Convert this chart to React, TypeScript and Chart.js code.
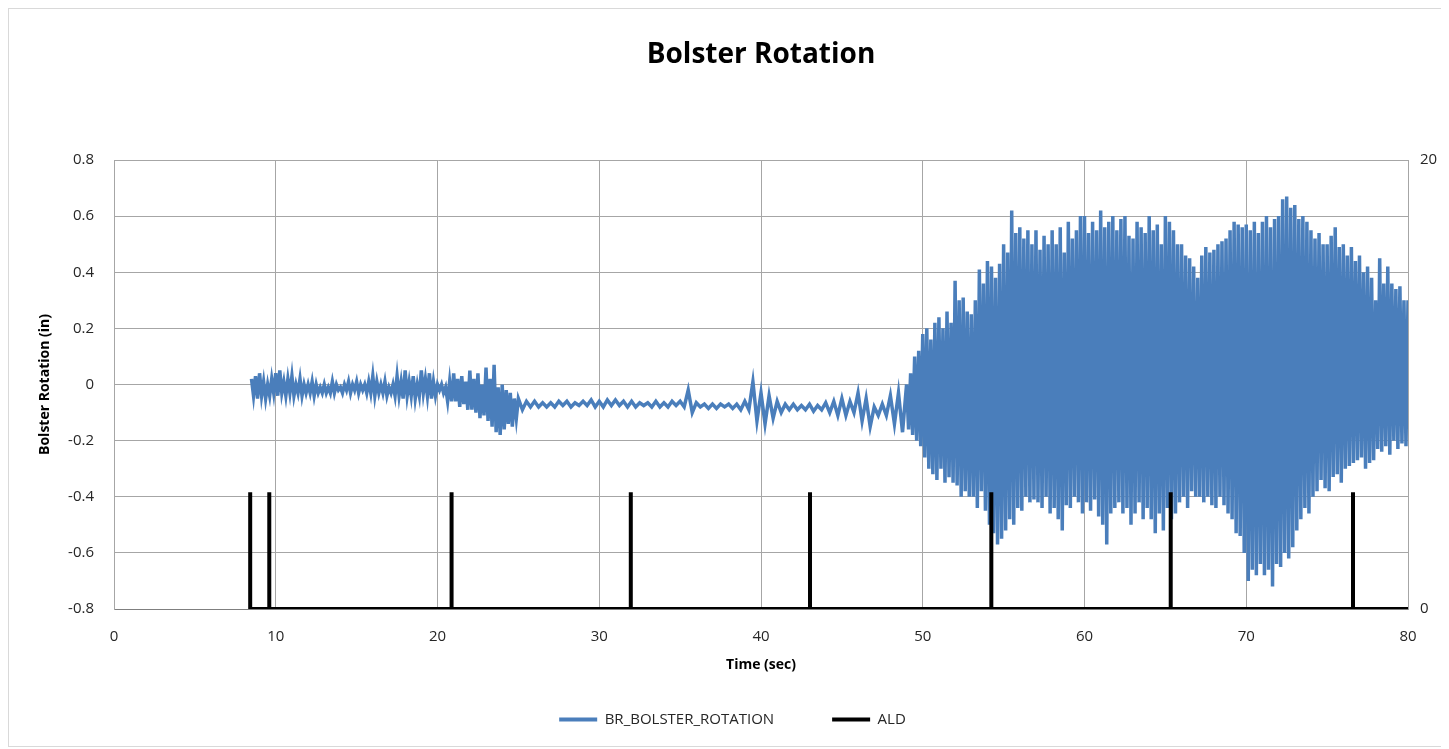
import React, { useEffect, useRef } from "react";
import { Chart, registerables } from "chart.js";

Chart.register(...registerables);

// ---------- data ----------
const chartTitle = "Bolster Rotation";
const xTitle = "Time (sec)";
const yTitle = "Bolster Rotation (in)";
const rotationLabel = "BR_BOLSTER_ROTATION";
const aldLabel = "ALD";

const xTicks = [0, 10, 20, 30, 40, 50, 60, 70, 80];
const yLeftTicks = [-0.8, -0.6, -0.4, -0.2, 0, 0.2, 0.4, 0.6, 0.8];
const yRightTicks = [0, 20];

// early part: 8.5 s .. 24.875 s, every 0.125 s
const rotationEarlyStart = 8.5;
const rotationEarlyStep = 0.125;
const rotationEarly = [
  0.02, -0.04, 0.03, -0.05,
  0.04, -0.04, 0.01, -0.05, 0.0, -0.04, 0.02, -0.03,
  0.04, -0.04, 0.05, -0.03, 0.01, -0.04, 0.02, -0.03,
  0.03, -0.04, 0.0, -0.03, 0.02, -0.04, 0.0, -0.03,
  0.0, -0.03, 0.01, -0.04, 0.0, -0.03, -0.01, -0.03,
  0.0, -0.03, -0.01, -0.03, 0.01, -0.03, 0.0, -0.02,
  -0.01, -0.03, 0.0, -0.02, 0.01, -0.03, 0.0, -0.02,
  0.01, -0.03, 0.0, -0.02, 0.0, -0.03, 0.01, -0.03,
  0.03, -0.04, 0.01, -0.03, 0.0, -0.03, 0.01, -0.04,
  -0.01, -0.03, 0.0, -0.04, 0.03, -0.04, 0.01, -0.05,
  0.05, -0.04, 0.01, -0.04, 0.03, -0.05, 0.0, -0.04,
  0.05, -0.03, 0.02, -0.04, 0.04, -0.05, 0.01, -0.04,
  0.0, -0.02, 0.0, -0.03, -0.01, -0.06, 0.01, -0.06,
  0.04, -0.06, 0.02, -0.08, 0.03, -0.07, 0.01, -0.09,
  0.05, -0.09, 0.02, -0.1, 0.04, -0.12, 0.0, -0.11,
  0.06, -0.13, 0.02, -0.15, 0.07, -0.17, -0.01, -0.18,
  0.0, -0.16, -0.02, -0.14, -0.03, -0.15, -0.05, -0.12,
];

// middle part: 25 s .. 48.75 s, every 0.25 s
const rotationMidStart = 25;
const rotationMidStep = 0.25;
const rotationMid = [
  -0.05, -0.09, -0.06, -0.08,
  -0.06, -0.08, -0.065, -0.08,
  -0.065, -0.08, -0.06, -0.075,
  -0.06, -0.08, -0.065, -0.075,
  -0.06, -0.075, -0.055, -0.08,
  -0.06, -0.08, -0.055, -0.075,
  -0.055, -0.075, -0.06, -0.08,
  -0.06, -0.08, -0.065, -0.075,
  -0.065, -0.08, -0.06, -0.08,
  -0.065, -0.08, -0.06, -0.075,
  -0.06, -0.08, -0.02, -0.1,
  -0.065, -0.08, -0.07, -0.085,
  -0.07, -0.085, -0.07, -0.08,
  -0.07, -0.085, -0.07, -0.09,
  -0.06, -0.09, 0.01, -0.13,
  -0.03, -0.14, -0.04, -0.12,
  -0.06, -0.1, -0.07, -0.09,
  -0.07, -0.09, -0.075, -0.09,
  -0.07, -0.095, -0.075, -0.09,
  -0.065, -0.1, -0.06, -0.11,
  -0.05, -0.11, -0.06, -0.1,
  -0.03, -0.13, -0.05, -0.15,
  -0.08, -0.11, -0.07, -0.11,
  -0.04, -0.14, -0.03, -0.17,
];

// active part: 49 s .. 80 s, every 0.125 s
const rotationActiveStart = 49;
const rotationActiveStep = 0.125;
const rotationActive = [
  0.0, -0.16, 0.04, -0.18, 0.1, -0.2, 0.12, -0.22,
  0.18, -0.26, 0.2, -0.3, 0.16, -0.32, 0.22, -0.34,
  0.24, -0.3, 0.2, -0.35, 0.26, -0.33, 0.22, -0.35,
  0.37, -0.36, 0.3, -0.4, 0.31, -0.38, 0.26, -0.4,
  0.25, -0.4, 0.3, -0.44, 0.41, -0.38, 0.36, -0.45,
  0.44, -0.5, 0.42, -0.53, 0.38, -0.57, 0.43, -0.55,
  0.5, -0.52, 0.47, -0.48, 0.62, -0.5, 0.54, -0.44,
  0.56, -0.45, 0.52, -0.4, 0.55, -0.42, 0.5, -0.41,
  0.55, -0.42, 0.48, -0.44, 0.53, -0.4, 0.5, -0.46,
  0.55, -0.44, 0.5, -0.48, 0.56, -0.52, 0.47, -0.43,
  0.58, -0.44, 0.52, -0.4, 0.55, -0.42, 0.6, -0.46,
  0.6, -0.42, 0.54, -0.45, 0.58, -0.41, 0.55, -0.47,
  0.62, -0.5, 0.56, -0.57, 0.58, -0.46, 0.6, -0.44,
  0.55, -0.42, 0.59, -0.46, 0.6, -0.44, 0.53, -0.5,
  0.52, -0.46, 0.58, -0.42, 0.56, -0.48, 0.54, -0.44,
  0.6, -0.48, 0.55, -0.53, 0.57, -0.46, 0.5, -0.52,
  0.6, -0.44, 0.58, -0.48, 0.55, -0.46, 0.5, -0.42,
  0.5, -0.4, 0.46, -0.44, 0.45, -0.38, 0.42, -0.4,
  0.38, -0.4, 0.46, -0.42, 0.49, -0.4, 0.47, -0.43,
  0.48, -0.44, 0.5, -0.4, 0.51, -0.43, 0.52, -0.46,
  0.55, -0.48, 0.58, -0.53, 0.57, -0.54, 0.56, -0.6,
  0.57, -0.7, 0.55, -0.66, 0.58, -0.68, 0.54, -0.64,
  0.58, -0.68, 0.6, -0.66, 0.56, -0.72, 0.59, -0.64,
  0.6, -0.65, 0.66, -0.6, 0.67, -0.62, 0.63, -0.58,
  0.64, -0.52, 0.59, -0.48, 0.6, -0.44, 0.58, -0.46,
  0.55, -0.4, 0.52, -0.38, 0.54, -0.34, 0.5, -0.37,
  0.5, -0.38, 0.53, -0.33, 0.56, -0.32, 0.49, -0.35,
  0.5, -0.3, 0.46, -0.29, 0.49, -0.28, 0.44, -0.27,
  0.46, -0.26, 0.4, -0.3, 0.42, -0.28, 0.38, -0.27,
  0.3, -0.23, 0.45, -0.24, 0.36, -0.22, 0.42, -0.25,
  0.36, -0.2, 0.34, -0.23, 0.35, -0.21, 0.3, -0.22,
  0.3,
];

// ALD pulses (right axis)
const aldStart = 8.3;
const aldEnd = 80;
const aldPulseTimes = [8.42, 9.6, 20.87, 31.95, 43.03, 54.24, 65.33, 76.6];
const aldPulseHeights = [5.2, 5.2, 5.2, 5.2, 5.2, 5.2, 5.2, 5.2];

// ---------- styles ----------
const BLUE = "#4A7EBB";
const GRID = "#A6A6A6";
const TEXT = "#262626";
const FONT = "Open Sans";

function pushSeries(pts: { x: number; y: number }[], values: number[], start: number, step: number) {
  values.forEach((v, i) => pts.push({ x: start + i * step, y: v }));
}

function buildRotation() {
  const pts: { x: number; y: number }[] = [];
  pushSeries(pts, rotationEarly, rotationEarlyStart, rotationEarlyStep);
  pushSeries(pts, rotationMid, rotationMidStart, rotationMidStep);
  pushSeries(pts, rotationActive, rotationActiveStart, rotationActiveStep);
  return pts;
}

function buildAld() {
  const pts: { x: number; y: number }[] = [{ x: aldStart, y: 0 }];
  aldPulseTimes.forEach((t, i) => {
    pts.push({ x: t, y: 0 });
    pts.push({ x: t, y: aldPulseHeights[i] });
    pts.push({ x: t, y: 0 });
  });
  pts.push({ x: aldEnd, y: 0 });
  return pts;
}

export default function App() {
  const ref = useRef<HTMLCanvasElement | null>(null);

  useEffect(() => {
    if (!ref.current) return;
    const chart = new Chart(ref.current, {
      type: "line",
      data: {
        datasets: [
          {
            label: rotationLabel,
            data: buildRotation(),
            borderColor: BLUE,
            backgroundColor: BLUE,
            borderWidth: 3.5,
            pointRadius: 0,
            tension: 0,
            yAxisID: "y",
            order: 1,
          },
          {
            label: aldLabel,
            data: buildAld(),
            borderColor: "#000000",
            backgroundColor: "#000000",
            borderWidth: 4,
            pointRadius: 0,
            tension: 0,
            yAxisID: "y1",
            order: 0,
          },
        ],
      },
      options: {
        animation: false,
        responsive: false,
        devicePixelRatio: 1,
        parsing: false,
        normalized: true,
        layout: { padding: { left: 15, right: 0, top: 0, bottom: 9 } },
        plugins: {
          title: {
            display: true,
            fullSize: false,
            text: chartTitle,
            color: "#000",
            font: { family: FONT, size: 28, weight: "bold" },
            padding: { top: 29.4, bottom: 88 },
          },
          legend: {
            position: "bottom",
            labels: {
              boxWidth: 38,
              boxHeight: 4,
              padding: 58,
              color: TEXT,
              font: { family: FONT, size: 15 },
              sort: (a: any, b: any) => a.datasetIndex - b.datasetIndex,
              generateLabels: (c: any) =>
                (Chart.defaults.plugins.legend.labels as any)
                  .generateLabels(c)
                  .map((l: any) => ({ ...l, lineWidth: 0 })),
            },
          },
          tooltip: { enabled: false },
        },
        scales: {
          x: {
            type: "linear",
            min: 0,
            max: 80,
            afterBuildTicks: (s: any) => {
              s.ticks = xTicks.map((v) => ({ value: v }));
            },
            afterFit: (s: any) => {
              s.height = 45;
            },
            ticks: {
              color: TEXT,
              padding: 19,
              font: { family: FONT, size: 15 },
            },
            grid: { color: GRID, lineWidth: 1, drawTicks: false },
            border: { color: "#7F7F7F", width: 1 },
            title: {
              display: true,
              text: xTitle,
              color: "#000",
              font: { family: FONT, size: 14, weight: "bold" },
              padding: { top: 0, bottom: -19.5 },
            },
          },
          y: {
            type: "linear",
            position: "left",
            min: -0.8,
            max: 0.8,
            afterBuildTicks: (s: any) => {
              s.ticks = yLeftTicks.map((v) => ({ value: v }));
            },
            afterFit: (s: any) => {
              s.width = 90;
            },
            ticks: {
              color: TEXT,
              padding: 20,
              font: { family: FONT, size: 15 },
              callback: (v: any) => String(Number(Number(v).toFixed(1))),
            },
            grid: { color: GRID, lineWidth: 1, drawTicks: false },
            border: { color: GRID, width: 1 },
            title: {
              display: true,
              text: yTitle,
              color: "#000",
              font: { family: FONT, size: 14, weight: "bold" },
              padding: { top: 13, bottom: 0 },
            },
          },
          y1: {
            type: "linear",
            position: "right",
            min: 0,
            max: 20,
            afterBuildTicks: (s: any) => {
              s.ticks = yRightTicks.map((v) => ({ value: v }));
            },
            afterFit: (s: any) => {
              s.width = 33;
            },
            ticks: {
              color: TEXT,
              padding: 12,
              font: { family: FONT, size: 15 },
            },
            grid: { display: false, drawTicks: false },
            border: { display: true, color: GRID, width: 1 },
          },
        },
      } as any,
    });
    return () => chart.destroy();
  }, []);

  return (
    <div
      style={{
        position: "relative",
        width: 1434,
        height: 739,
        border: "1px solid #D9D9D9",
        boxSizing: "border-box",
        background: "#fff",
      }}
    >
      <canvas ref={ref} width={1432} height={737} style={{ display: "block" }} />
    </div>
  );
}
